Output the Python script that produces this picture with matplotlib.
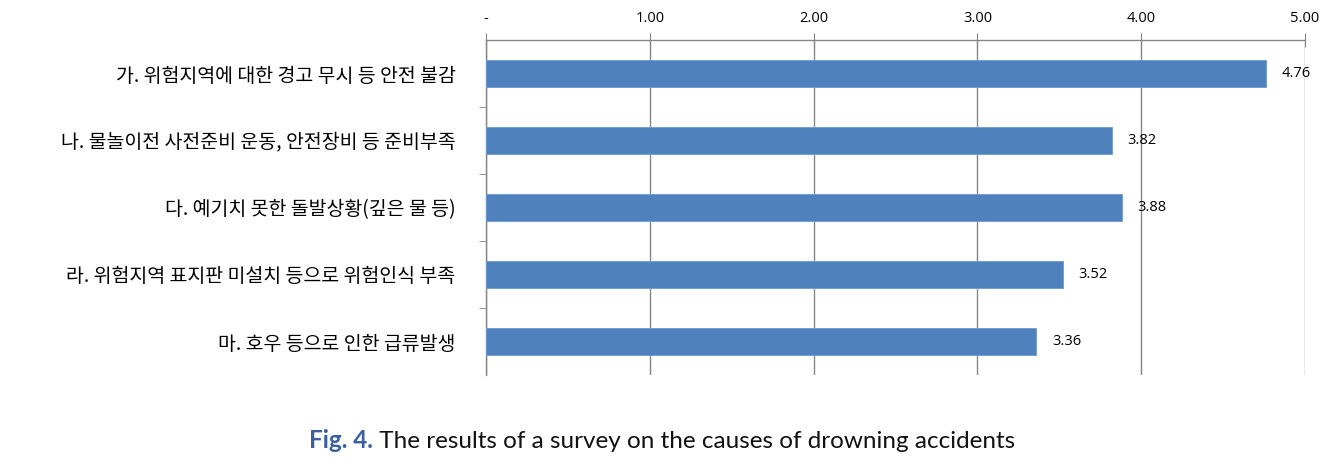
import matplotlib
matplotlib.use("Agg")
import matplotlib.pyplot as plt
import numpy as np
from matplotlib.ticker import FixedLocator

categories = [
    "가. 위험지역에 대한 경고 무시 등 안전 불감",
    "나. 물놀이전 사전준비 운동, 안전장비 등 준비부족",
    "다. 예기치 못한 돌발상황(깊은 물 등)",
    "라. 위험지역 표지판 미설치 등으로 위험인식 부족",
    "마. 호우 등으로 인한 급류발생",
]
values = [4.76, 3.82, 3.88, 3.52, 3.36]
xticks = [0, 1, 2, 3, 4, 5]
xtick_labels = ["-", "1.00", "2.00", "3.00", "4.00", "5.00"]
caption_prefix = "Fig. 4."
caption_text = " The results of a survey on the causes of drowning accidents"

plt.rcParams['font.family'] = ['Noto Sans CJK KR', 'DejaVu Sans']

fig = plt.figure(figsize=(13.4, 4.62), dpi=100)
ax = fig.add_axes([486/1340, 1-375/462, (1305-486)/1340, (375-40)/462])

n = len(categories)
y = np.arange(n)
ax.barh(y, values, height=0.39, color="#4f81bd", edgecolor="#6f9bd0", linewidth=0.6, zorder=3)
ax.set_ylim(n - 0.5, -0.5)
ax.set_xlim(0, 5)

ax.xaxis.tick_top()
ax.set_xticks(xticks)
ax.set_xticklabels(xtick_labels, fontsize=10.5, family=['Open Sans', 'DejaVu Sans'])
ax.tick_params(axis='x', direction='inout', length=10, color="#868686", pad=5)
ax.grid(axis='x', color="#868686", linewidth=1.0, zorder=0)

ax.set_yticks(y)
ax.set_yticklabels(categories, fontsize=14, fontweight='medium')
ax.tick_params(axis='y', length=0, pad=22)
ax.yaxis.set_minor_locator(FixedLocator(np.arange(0.5, n - 0.5, 1.0)))
ax.tick_params(axis='y', which='minor', direction='out', length=5, color="#868686")

for s in ['bottom', 'right']:
    ax.spines[s].set_visible(False)
for s in ['top', 'left']:
    ax.spines[s].set_color("#868686")
    ax.spines[s].set_linewidth(1.0)

for yi, v in zip(y, values):
    ax.annotate(f"{v:.2f}", xy=(v, yi), xytext=(16, 0), textcoords='offset pixels',
                va='center', ha='left', fontsize=10.5, family=['Open Sans', 'DejaVu Sans'], zorder=4)

t1 = fig.text(309/1340, 1-441/462, caption_prefix, color="#3b5fa0", fontsize=17.5,
              family=['Lato', 'DejaVu Sans'], fontweight='bold', va='center', ha='left')
fig.canvas.draw()
ax.annotate(caption_text, xy=(1, 0.5), xycoords=t1, va='center', ha='left',
            fontsize=17.5, family=['Lato', 'DejaVu Sans'], color="#111111", annotation_clip=False)

fig.savefig("out.png", dpi=100)
